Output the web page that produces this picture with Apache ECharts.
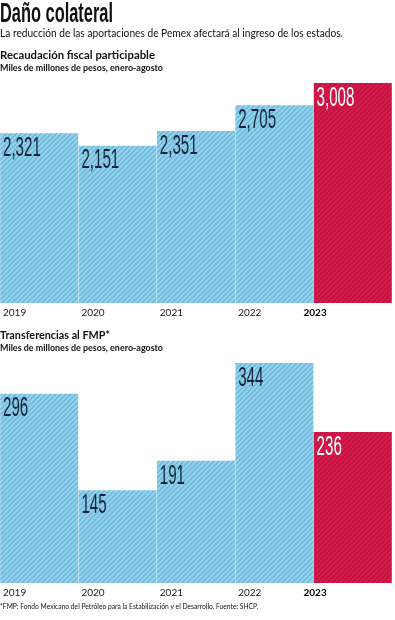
<!DOCTYPE html>
<html><head><meta charset="utf-8">
<script src="https://cdn.jsdelivr.net/npm/echarts@6/dist/echarts.min.js"></script>
<style>html,body{margin:0;padding:0;background:#fff}#c{width:395px;height:620px}</style>
</head><body><div id="c"></div>
<script>
const categories = ['2019', '2020', '2021', '2022', '2023'];
const recaudacion = [2321, 2151, 2351, 2705, 3008];
const transferencias = [296, 145, 191, 344, 236];
const highlightIndex = 4;

const titleText = 'Daño colateral';
const subtitleText = 'La reducción de las aportaciones de Pemex afectará al ingreso de los estados.';
const chart1Title = 'Recaudación fiscal participable';
const chart1Sub = 'Miles de millones de pesos, enero-agosto';
const chart2Title = 'Transferencias al FMP*';
const chart2Sub = 'Miles de millones de pesos, enero-agosto';
const footnote = '*FMP: Fondo Mexicano del Petróleo para la Estabilización y el Desarrollo. Fuente: SHCP.';

function makePattern(base, stripe) {
  const s = 5;
  const cv = document.createElement('canvas');
  cv.width = s; cv.height = s;
  const ctx = cv.getContext('2d');
  ctx.fillStyle = base; ctx.fillRect(0, 0, s, s);
  ctx.strokeStyle = stripe; ctx.lineWidth = 1.3;
  ctx.beginPath();
  for (let k = -1; k <= 1; k++) {
    ctx.moveTo(k * s - 1, s + 1); ctx.lineTo(k * s + s + 1, -1);
  }
  ctx.stroke();
  return { image: cv, repeat: 'repeat' };
}
const bluePat = makePattern('#92d3ef', '#6db3d4');
const redPat = makePattern('#d81b4b', '#b91240');

const mctx = document.createElement('canvas').getContext('2d');
function fit(text, font, width) {
  mctx.font = font;
  return width / mctx.measureText(text).width;
}
function head(text, font, width, x, y) {
  return { type: 'text', x: x, y: y, scaleX: fit(text, font, width),
    style: { text: text, font: font, fill: '#111', textVerticalAlign: 'middle' } };
}
const fmt = v => v.toLocaleString('en-US');
const labelFont = '28px "Liberation Sans"';

function labelSeries(vals, axisIdx) {
  return {
    type: 'custom', xAxisIndex: axisIdx * 2, yAxisIndex: axisIdx, z: 10,
    data: vals.map((v, i) => [i, v]),
    renderItem: (params, api) => {
      const p = api.coord([api.value(0), api.value(1)]);
      const w = api.size([1, 0])[0];
      return { type: 'text', x: p[0] - w / 2 + 3, y: p[1] + 1, scaleX: 0.54,
        style: { text: fmt(api.value(1)), font: labelFont,
          fill: params.dataIndex === highlightIndex ? '#fff' : '#13243a', textVerticalAlign: 'top' } };
    }
  };
}
function barSeries(vals, axisIdx) {
  return {
    type: 'bar', xAxisIndex: axisIdx * 2, yAxisIndex: axisIdx, barWidth: 78,
    data: vals.map((v, i) => ({ value: v, itemStyle: { color: i === highlightIndex ? redPat : bluePat } })),
    silent: true
  };
}
function xAxes(gridIdx) {
  return [
    { type: 'category', gridIndex: gridIdx, data: categories, show: false },
    { type: 'category', gridIndex: gridIdx, position: 'bottom', boundaryGap: false,
      data: categories.map((c, i) => i === highlightIndex ? { value: c, textStyle: { fontWeight: 'bold', color: '#000' } } : c).concat(['']),
      axisLine: { show: false }, axisTick: { show: false }, splitLine: { show: false },
      axisLabel: { align: 'left', margin: 5, padding: [0, 0, 0, 3], fontSize: 10, color: '#222', fontFamily: 'Lato', interval: 0 } }
  ];
}

const chart = echarts.init(document.getElementById('c'), null, { renderer: 'canvas' });
chart.setOption({
  animation: false,
  graphic: { elements: [
    head(titleText, 'bold 28px "Liberation Sans"', 113, 0, 14),
    head(subtitleText, '11px Lato', 343, 0, 33),
    head(chart1Title, 'bold 12px Lato', 155, 0, 55),
    head(chart1Sub, 'bold 9.5px Lato', 163, 0, 67.5),
    head(chart2Title, 'bold 12px Lato', 110, 0, 335),
    head(chart2Sub, 'bold 9.5px Lato', 163, 0, 348),
    head(footnote, '7.5px Lato', 258, 0, 607)
  ] },
  grid: [
    { left: 0, right: 0, top: 83, bottom: 317 },
    { left: 0, right: 0, top: 363, bottom: 37 }
  ],
  xAxis: xAxes(0).concat(xAxes(1)),
  yAxis: [
    { type: 'value', gridIndex: 0, min: 0, max: 3008, show: false },
    { type: 'value', gridIndex: 1, min: 0, max: 344, show: false }
  ],
  series: [
    barSeries(recaudacion, 0), labelSeries(recaudacion, 0),
    barSeries(transferencias, 1), labelSeries(transferencias, 1)
  ]
});
</script></body></html>
